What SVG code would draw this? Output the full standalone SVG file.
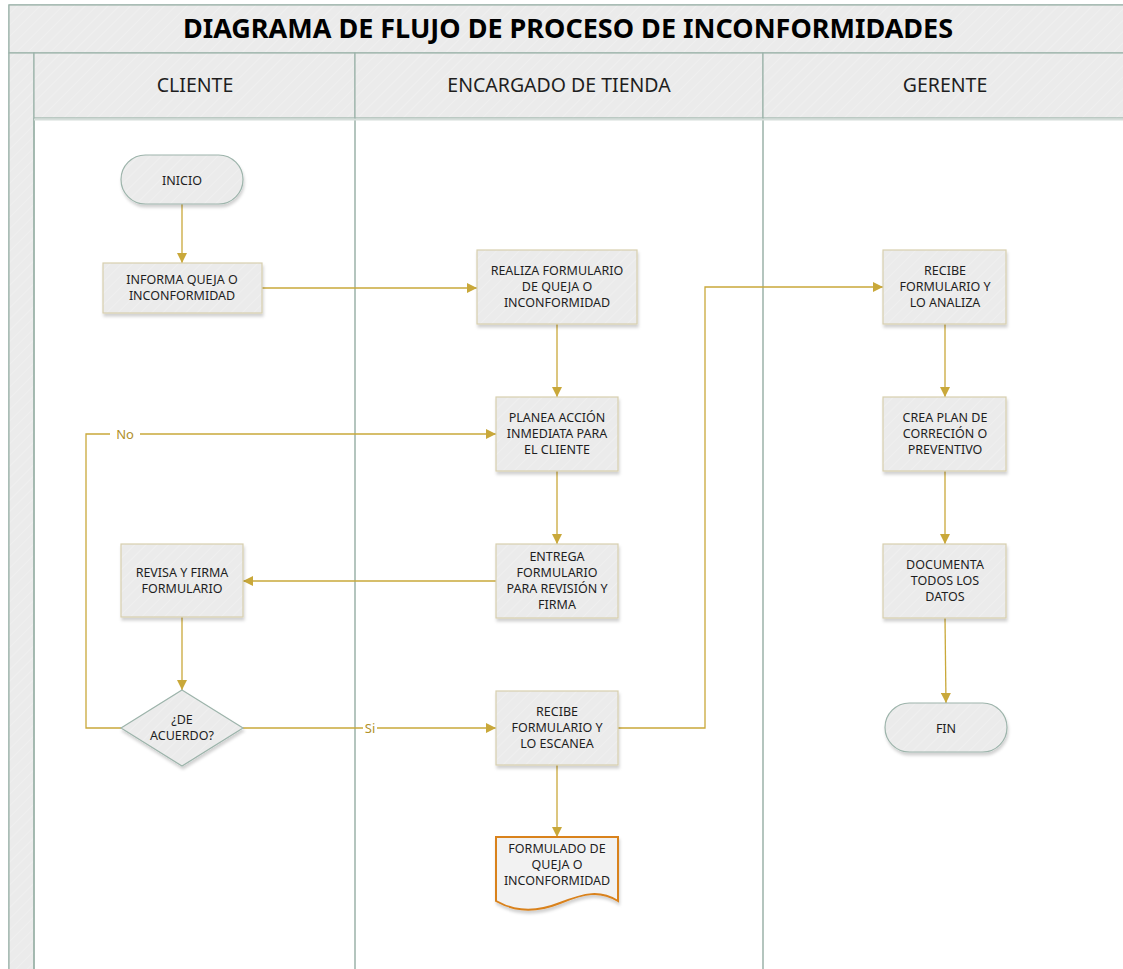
<svg xmlns="http://www.w3.org/2000/svg" width="1123" height="969" viewBox="0 0 1123 969">
<defs>
  <pattern id="hatch" width="8" height="8" patternUnits="userSpaceOnUse" patternTransform="rotate(45)">
    <rect width="8" height="8" fill="#EBEBEB"/>
    <line x1="0" y1="0" x2="0" y2="8" stroke="#F2F2F2" stroke-width="1.2"/>
  </pattern>
  <filter id="sh" x="-10%" y="-10%" width="130%" height="140%">
    <feDropShadow dx="1" dy="3" stdDeviation="1.5" flood-color="#000" flood-opacity="0.18"/>
  </filter>
  <marker id="arr" viewBox="0 0 10 10" refX="10" refY="5" markerWidth="10" markerHeight="10" markerUnits="userSpaceOnUse" orient="auto">
    <path d="M0,0 L10,5 L0,10 Z" fill="#C9A83A"/>
  </marker>
</defs>
<style>
  .lane { fill: url(#hatch); stroke: #9BB2A9; stroke-width: 1.2; }
  .ln { stroke: #9BB2A9; stroke-width: 1.5; fill: none; }
  .box { fill: url(#hatch); stroke: #D7CFAE; stroke-width: 1.2; filter: url(#sh); }
  .term { fill: url(#hatch); stroke: #9DB4AB; stroke-width: 1.2; filter: url(#sh); }
  .doc { fill: #F2F2F2; stroke: #D9821E; stroke-width: 2; filter: url(#sh); }
  .t { font-family: "Noto Sans", "Open Sans", sans-serif; font-size: 12.5px; fill: #1E1E1E; text-anchor: middle; }
  .hd { font-family: "Noto Sans", "Open Sans", sans-serif; font-size: 19.5px; fill: #1E1E1E; text-anchor: middle; }
  .ttl { font-family: "Noto Sans", "Open Sans", sans-serif; font-size: 27px; font-weight: bold; fill: #000; text-anchor: middle; }
  .c { stroke: #C9A83A; stroke-width: 1.3; fill: none; marker-end: url(#arr); }
  .cn { stroke: #C9A83A; stroke-width: 1.3; fill: none; }
  .lbl { font-family: "Noto Sans", "Open Sans", sans-serif; font-size: 13px; fill: #B0902A; text-anchor: middle; }
</style>

<g id="pool">
  <rect x="9" y="5" width="1130" height="980" fill="#FFFFFF" stroke="#9BB2A9" stroke-width="1.2"/>
  <rect class="lane" x="9" y="5" width="1130" height="48"/>
  <rect class="lane" x="9" y="53" width="25" height="930"/>
  <rect class="lane" x="34" y="53" width="321" height="65"/>
  <rect class="lane" x="355" y="53" width="408" height="65"/>
  <rect class="lane" x="763" y="53" width="380" height="65"/>
  <line class="ln" x1="34" y1="118" x2="34" y2="975"/>
  <line class="ln" x1="355" y1="118" x2="355" y2="975"/>
  <line class="ln" x1="763" y1="118" x2="763" y2="975"/>
  <line x1="34" y1="119.5" x2="1123" y2="119.5" stroke="#D5DDDA" stroke-width="2"/>
  <text class="ttl" x="568" y="38">DIAGRAMA DE FLUJO DE PROCESO DE INCONFORMIDADES</text>
  <text class="hd" x="195" y="92">CLIENTE</text>
  <text class="hd" x="559" y="92">ENCARGADO DE TIENDA</text>
  <text class="hd" x="945" y="92">GERENTE</text>
</g>

<g id="connectors">
  <path class="c" d="M182,204 V263"/>
  <path class="c" d="M262,288 H477"/>
  <path class="c" d="M557,324 V397"/>
  <path class="c" d="M557,471 V544"/>
  <path class="c" d="M496,581 H243"/>
  <path class="c" d="M182,617 V690"/>
  <path class="cn" d="M121,728 H86 V434 H110"/>
  <path class="c" d="M140,434 H496"/>
  <text class="lbl" x="125" y="439">No</text>
  <path class="cn" d="M243,728 H363"/>
  <path class="c" d="M377,728 H496"/>
  <text class="lbl" x="370" y="733">Si</text>
  <path class="c" d="M618,728 H705 V287 H883"/>
  <path class="c" d="M557,765 V837"/>
  <path class="c" d="M945,324 V397"/>
  <path class="c" d="M945,471 V544"/>
  <path class="c" d="M945,618 L946,703"/>
</g>

<g id="inicio">
  <rect class="term" x="121" y="155" width="122" height="49" rx="24.5"/>
  <text class="t" x="182" y="184.5">INICIO</text>
</g>
<g id="informa">
  <rect class="box" x="103" y="263" width="159" height="50"/>
  <text class="t" x="182" y="284">INFORMA QUEJA O</text>
  <text class="t" x="182" y="300">INCONFORMIDAD</text>
</g>
<g id="realiza">
  <rect class="box" x="477" y="250" width="160" height="74"/>
  <text class="t" x="557" y="275">REALIZA FORMULARIO</text>
  <text class="t" x="557" y="291">DE QUEJA O</text>
  <text class="t" x="557" y="307">INCONFORMIDAD</text>
</g>
<g id="planea">
  <rect class="box" x="496" y="397" width="122" height="74"/>
  <text class="t" x="557" y="422">PLANEA ACCIÓN</text>
  <text class="t" x="557" y="438">INMEDIATA PARA</text>
  <text class="t" x="557" y="454">EL CLIENTE</text>
</g>
<g id="entrega">
  <rect class="box" x="496" y="544" width="122" height="74"/>
  <text class="t" x="557" y="561">ENTREGA</text>
  <text class="t" x="557" y="577">FORMULARIO</text>
  <text class="t" x="557" y="593">PARA REVISIÓN Y</text>
  <text class="t" x="557" y="609">FIRMA</text>
</g>
<g id="revisa">
  <rect class="box" x="121" y="544" width="122" height="73"/>
  <text class="t" x="182" y="577">REVISA Y FIRMA</text>
  <text class="t" x="182" y="593">FORMULARIO</text>
</g>
<g id="acuerdo">
  <polygon class="term" points="182,690 243,728 182,766 121,728"/>
  <text class="t" x="182" y="724">¿DE</text>
  <text class="t" x="182" y="740">ACUERDO?</text>
</g>
<g id="escanea">
  <rect class="box" x="496" y="691" width="122" height="74"/>
  <text class="t" x="557" y="716">RECIBE</text>
  <text class="t" x="557" y="732">FORMULARIO Y</text>
  <text class="t" x="557" y="748">LO ESCANEA</text>
</g>
<g id="formulado">
  <path class="doc" d="M496,837 H618 V901 C600,890 585,893 560,903 C535,913 515,912 496,901 Z"/>
  <text class="t" x="557" y="853">FORMULADO DE</text>
  <text class="t" x="557" y="869">QUEJA O</text>
  <text class="t" x="557" y="885">INCONFORMIDAD</text>
</g>
<g id="analiza">
  <rect class="box" x="883" y="250" width="123" height="74"/>
  <text class="t" x="945" y="275">RECIBE</text>
  <text class="t" x="945" y="291">FORMULARIO Y</text>
  <text class="t" x="945" y="307">LO ANALIZA</text>
</g>
<g id="crea">
  <rect class="box" x="883" y="397" width="123" height="74"/>
  <text class="t" x="945" y="422">CREA PLAN DE</text>
  <text class="t" x="945" y="438">CORRECIÓN O</text>
  <text class="t" x="945" y="454">PREVENTIVO</text>
</g>
<g id="documenta">
  <rect class="box" x="883" y="544" width="123" height="74"/>
  <text class="t" x="945" y="569">DOCUMENTA</text>
  <text class="t" x="945" y="585">TODOS LOS</text>
  <text class="t" x="945" y="601">DATOS</text>
</g>
<g id="fin">
  <rect class="term" x="885" y="703" width="122" height="49" rx="24.5"/>
  <text class="t" x="946" y="732.5">FIN</text>
</g>
</svg>
